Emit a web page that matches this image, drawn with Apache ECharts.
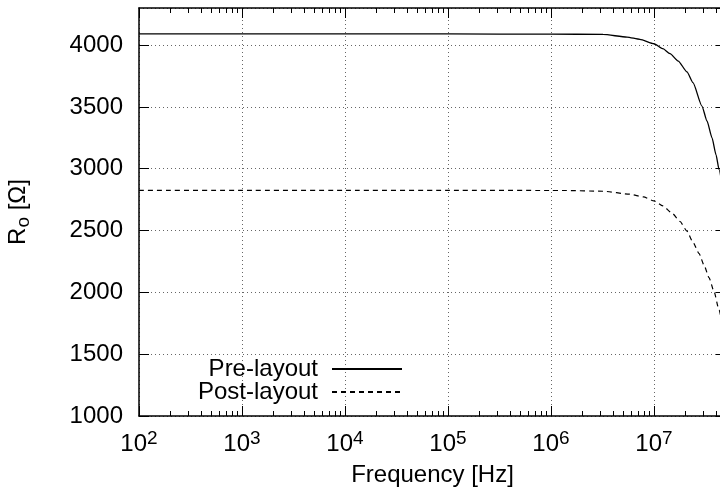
<!DOCTYPE html>
<html>
<head>
<meta charset="utf-8">
<script src="https://cdn.jsdelivr.net/npm/echarts@6/dist/echarts.min.js"></script>
<style>
  html, body { margin: 0; padding: 0; background: #fff; }
  #chart { width: 720px; height: 497px; }
</style>
</head>
<body>
<div id="chart"></div>
<script>
// readings
const preFreq = [100, 1e3, 1e4, 1e5, 1e6, 3.2e6, 5.47e6, 7.3e6, 1e7, 1.22e7, 1.43e7, 1.72e7, 2.09e7, 2.39e7, 2.92e7, 3.27e7, 3.66e7, 4.0e7, 4.28e7, 4.58e7]
const preR = [4090, 4090, 4090, 4090, 4089, 4086, 4065, 4046, 4011, 3971, 3931, 3871, 3783, 3696, 3507, 3386, 3249, 3113, 2994, 2867]

const postFreq = [100, 1e3, 1e4, 1e5, 1e6, 1.37e6, 3.2e6, 5.85e6, 7.9e6, 1e7, 1.22e7, 1.5e7, 1.79e7, 2.09e7, 2.39e7, 2.74e7, 3.06e7, 3.42e7, 3.83e7, 4.28e7, 4.57e7]
const postR = [2825, 2825, 2825, 2825, 2824, 2824, 2818, 2794, 2772, 2740, 2699, 2640, 2573, 2495, 2406, 2313, 2220, 2119, 2005, 1857, 1760]

const xMin = 100, xMax = 5e7
const yMin = 1000, yMax = 4300, yStep = 500

// minor log ticks (2..9 per decade), in log10 space
let minorTicks = []
for (let d = 2; d <= 7; d++) {
  for (let k = 2; k <= 9; k++) {
    let v = Math.log10(k * Math.pow(10, d))
    if (v < Math.log10(xMax)) minorTicks.push(v)
  }
}

const FONT = 'Liberation Sans, Arial, sans-serif'
const gridLine = { show: true, lineStyle: { color: '#666', width: 1, type: [1, 3] } }
const border = { show: true, onZero: false, lineStyle: { color: '#000', width: 1.5 } }
const legendBase = {
  orient: 'vertical', align: 'right', right: 317, padding: 0,
  itemWidth: 70, itemHeight: 14,
  itemStyle: { color: 'rgba(0,0,0,0)', borderWidth: 0, opacity: 0 },
  textStyle: { fontFamily: FONT, fontSize: 24, color: '#000', lineHeight: 24, padding: [0, 9, 0, 0] }
}

let myChart = echarts.init(document.getElementById('chart'))
let option = {
  backgroundColor: '#fff',
  animation: false,
  grid: { left: 139, top: 8, right: -6, bottom: 81, containLabel: false, outerBoundsMode: 'none' },
  legend: [
    Object.assign({ data: ['Pre-layout'], top: 357 }, legendBase),
    Object.assign({ data: ['Post-layout'], top: 380 }, legendBase)
  ],
  xAxis: [
    {
      type: 'log', logBase: 10, min: xMin, max: xMax, position: 'bottom',
      axisLine: border,
      axisTick: { inside: true, length: 10, lineStyle: { color: '#000', width: 1 } },
      axisLabel: {
        showMaxLabel: false, margin: 13,
        formatter: v => '{b|10}{s|' + Math.round(Math.log10(v)) + '}',
        rich: {
          b: { fontFamily: FONT, fontSize: 24, color: '#000', lineHeight: 30 },
          s: { fontFamily: FONT, fontSize: 19, color: '#000', lineHeight: 18, verticalAlign: 'top' }
        }
      },
      splitLine: gridLine,
      name: 'Frequency [Hz]', nameLocation: 'middle', nameGap: 47,
      nameTextStyle: { fontFamily: FONT, fontSize: 24, color: '#000' }
    },
    {
      type: 'log', logBase: 10, min: xMin, max: xMax, position: 'top',
      axisLine: border,
      axisTick: { inside: true, length: 10, lineStyle: { color: '#000', width: 1 } },
      axisLabel: { show: false },
      splitLine: { show: false }
    },
    {
      type: 'value', min: 2, max: Math.log10(xMax), position: 'bottom',
      axisLine: { show: false },
      axisTick: { show: true, inside: true, length: 5, customValues: minorTicks, lineStyle: { color: '#000', width: 1 } },
      axisLabel: { show: false },
      splitLine: { show: false }
    },
    {
      type: 'value', min: 2, max: Math.log10(xMax), position: 'top',
      axisLine: { show: false },
      axisTick: { show: true, inside: true, length: 5, customValues: minorTicks, lineStyle: { color: '#000', width: 1 } },
      axisLabel: { show: false },
      splitLine: { show: false }
    }
  ],
  yAxis: [
    {
      type: 'value', min: yMin, max: yMax, interval: yStep, position: 'left',
      axisLine: border,
      axisTick: { inside: true, length: 10, lineStyle: { color: '#000', width: 1 } },
      axisLabel: { showMaxLabel: false, margin: 16, fontFamily: FONT, fontSize: 24, color: '#000', formatter: v => String(v) },
      splitLine: gridLine,
      name: '{r|R}{sub|o}{r| [Ω]}', nameLocation: 'middle', nameGap: 106, nameRotate: 90,
      nameTextStyle: {
        rich: {
          r: { fontFamily: FONT, fontSize: 24, color: '#000', lineHeight: 30 },
          sub: { fontFamily: FONT, fontSize: 19, color: '#000', lineHeight: 18, verticalAlign: 'bottom' }
        }
      }
    },
    {
      type: 'value', min: yMin, max: yMax, interval: yStep, position: 'right',
      axisLine: border,
      axisTick: { inside: true, length: 10, lineStyle: { color: '#000', width: 1 } },
      axisLabel: { show: false },
      splitLine: { show: false }
    }
  ],
  series: [
    {
      name: 'Pre-layout', type: 'line', xAxisIndex: 0, yAxisIndex: 0,
      data: preFreq.map((f, i) => [f, preR[i]]),
      showSymbol: false, symbol: 'none', smooth: 0.2, smoothMonotone: 'x',
      lineStyle: { color: '#000', width: 1.3 },
      itemStyle: { color: '#000' }
    },
    {
      name: 'Post-layout', type: 'line', xAxisIndex: 0, yAxisIndex: 0,
      data: postFreq.map((f, i) => [f, postR[i]]),
      showSymbol: false, symbol: 'none', smooth: 0.2, smoothMonotone: 'x',
      lineStyle: { color: '#000', width: 1.2, type: [5, 4] },
      itemStyle: { color: '#000' }
    }
  ]
}
myChart.setOption(option)
</script>
</body>
</html>
